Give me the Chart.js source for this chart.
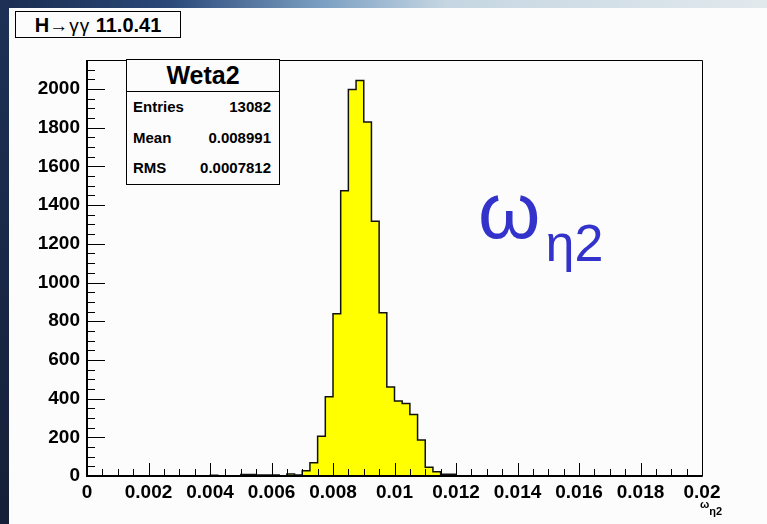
<!DOCTYPE html>
<html>
<head>
<meta charset="utf-8">
<title>Weta2</title>
<script src="https://cdn.jsdelivr.net/npm/chart.js@4.4.1/dist/chart.umd.min.js"></script>
<style>
  html, body { margin: 0; padding: 0; }
  body {
    width: 767px; height: 524px; position: relative; overflow: hidden;
    background: #fcfcfc;
    font-family: "Liberation Sans", Arial, sans-serif;
  }
  #bandTop {
    position: absolute; left: 0; top: 0; width: 767px; height: 8px;
    background: linear-gradient(to right, #1b2d50 0%, #2b4878 22%, #7b9fc2 42%, #c5d6e2 58%, #e2e9ed 100%);
  }
  #bandLeft {
    position: absolute; left: 0; top: 0; width: 9px; height: 524px;
    background: linear-gradient(to bottom, #1d3156, #151f37);
  }
  #wrap { position: absolute; left: 0; top: 0; width: 767px; height: 524px; }
  #title {
    position: absolute; left: 15px; top: 11px; width: 164px; height: 25px;
    border: 1px solid #000; background: #fcfcfc;
    font-weight: bold; font-size: 20px; line-height: 26px; text-align: center; white-space: nowrap;
  }
  #title .thin { font-weight: normal; font-size: 19px; letter-spacing: 1px; }
  #stats {
    position: absolute; left: 126px; top: 59px; width: 152px; height: 124px;
    border: 1px solid #000; background: #fcfcfc; font-weight: bold;
  }
  #stats .head {
    height: 31px; border-bottom: 1px solid #000; text-align: center;
    font-size: 25px; line-height: 31px;
  }
  #stats .row { position: relative; height: 30.5px; font-size: 15px; line-height: 30px; }
  #stats .row span:first-child { position: absolute; left: 6px; }
  #stats .row span:last-child { position: absolute; right: 8px; }
  #omega {
    position: absolute; left: 478px; top: 161px; color: #3333cc; white-space: nowrap;
    font-size: 80px; line-height: 100px;
  }
  #omega sub { font-size: 52px; vertical-align: -23px; margin-left: 5px; }
  #xtitle {
    position: absolute; left: 700px; top: 498px; white-space: nowrap; font-weight: bold; font-size: 11px;
  }
  #xtitle sub { font-size: 11px; vertical-align: -7px; }
</style>
</head>
<body>
<div id="bandTop"></div>
<div id="bandLeft"></div>
<div id="wrap"><canvas id="chartWeta2"></canvas></div>
<div id="title">H<span class="thin">→γγ</span> 11.0.41</div>
<div id="stats">
  <div class="head">Weta2</div>
  <div class="row"><span>Entries</span><span>13082</span></div>
  <div class="row"><span>Mean</span><span>0.008991</span></div>
  <div class="row"><span>RMS</span><span>0.0007812</span></div>
</div>
<div id="omega">ω<sub>η2</sub></div>
<div id="xtitle">ω<sub>η2</sub></div>

<script>
// Histogram binning
const binLow = 0;
const binWidth = 0.00025;

// Bin contents, 80 bins from 0 to 0.02
const counts = [
    0, 0, 0, 0, 0, 0, 0, 0, 0, 0,
    0, 0, 0, 0, 0, 0, 4, 0, 0, 0,
    8, 8, 5, 5, 5, 0, 10, 5, 27, 69,
    206, 409, 838, 1474, 1998, 2044, 1830, 1316, 844, 460,
    388, 375, 318, 186, 45, 22, 9, 9, 0, 0,
    0, 0, 0, 0, 0, 0, 0, 0, 0, 0,
    0, 0, 0, 0, 0, 0, 0, 0, 0, 0,
    0, 0, 0, 0, 0, 0, 0, 0, 0, 0
];

// Axis ticks
const xTicks = [0, 0.002, 0.004, 0.006, 0.008, 0.01, 0.012, 0.014, 0.016, 0.018, 0.02];
const xMinorStep = 0.0005;
const yTicks = [0, 200, 400, 600, 800, 1000, 1200, 1400, 1600, 1800, 2000];
const yMinorStep = 50;
const yMax = 2150;

// bin edges -> step points (last edge repeats the last content)
const points = counts.map((c, i) => ({ x: binLow + i * binWidth, y: c }));
points.push({ x: binLow + counts.length * binWidth, y: counts[counts.length - 1] });

const tickFont = { family: '"Liberation Sans", Arial, sans-serif', size: 19, weight: 'bold' };

// frame and inward ticks, ROOT style
const frameTicks = {
    id: 'frameTicks',
    afterDatasetsDraw(chart) {
        const { ctx, chartArea: a, scales: { x, y } } = chart;
        ctx.save();
        ctx.strokeStyle = '#000';
        ctx.lineWidth = 1;
        ctx.beginPath();
        for (let v = x.min; v <= x.max + 1e-9; v += xMinorStep) {
            const px = Math.round(x.getPixelForValue(v)) + 0.5;
            const major = xTicks.some(t => Math.abs(t - v) < 1e-9);
            ctx.moveTo(px, a.bottom);
            ctx.lineTo(px, a.bottom - (major ? 13 : 7));
        }
        for (let v = 0; v <= yMax; v += yMinorStep) {
            const py = Math.round(y.getPixelForValue(v)) + 0.5;
            const major = yTicks.includes(v);
            ctx.moveTo(a.left, py);
            ctx.lineTo(a.left + (major ? 18 : 8), py);
        }
        ctx.stroke();

        ctx.beginPath();
        ctx.rect(Math.round(a.left) + 0.5, Math.round(a.top) + 0.5,
                 Math.round(a.right - a.left), Math.round(a.bottom - a.top));
        ctx.stroke();
        ctx.lineWidth = 2;
        ctx.beginPath();
        ctx.moveTo(a.left, a.top);
        ctx.lineTo(a.left, a.bottom);
        ctx.lineTo(a.right, a.bottom);
        ctx.stroke();
        ctx.restore();
    }
};

const ctx = document.getElementById('chartWeta2').getContext('2d');
new Chart(ctx, {
    type: 'line',
    data: {
        datasets: [{
            label: 'Weta2',
            data: points,
            stepped: 'before',
            borderColor: '#111',
            borderWidth: 1.5,
            backgroundColor: '#ffff00',
            fill: 'origin',
            pointRadius: 0,
            tension: 0
        }]
    },
    options: {
        responsive: true,
        maintainAspectRatio: false,
        animation: false,
        layout: { padding: { left: 0, top: 60, right: 65, bottom: 0 } },
        plugins: {
            legend: { display: false },
            tooltip: { enabled: false }
        },
        scales: {
            x: {
                type: 'linear',
                min: 0,
                max: 0.02,
                grid: { display: false, drawTicks: false },
                border: { display: false },
                afterBuildTicks: axis => { axis.ticks = xTicks.map(v => ({ value: v })); },
                afterFit: axis => { axis.height = 48; },
                ticks: {
                    padding: 5,
                    color: '#000',
                    font: tickFont,
                    maxRotation: 0,
                    autoSkip: false,
                    callback: v => String(Number(v.toFixed(4)))
                }
            },
            y: {
                min: 0,
                max: yMax,
                grid: { display: false, drawTicks: false },
                border: { display: false },
                afterBuildTicks: axis => { axis.ticks = yTicks.map(v => ({ value: v })); },
                afterFit: axis => { axis.width = 87; },
                ticks: {
                    padding: 7,
                    color: '#000',
                    font: tickFont,
                    autoSkip: false,
                    callback: v => String(v)
                }
            }
        }
    },
    plugins: [frameTicks]
});
</script>
</body>
</html>
